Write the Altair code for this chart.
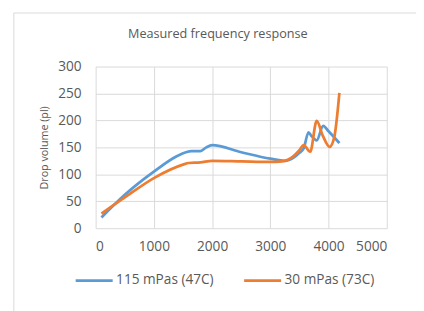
import altair as alt
import pandas as pd

# Series data
blue_name = "115 mPas (47C)"
blue_x = [100, 500, 1000, 1400, 1550, 1650, 1800, 1900, 2000, 2500, 3000, 3250, 3400, 3500, 3573, 3656, 3700, 3796, 3908, 4000, 4186]
blue_y = [20, 62, 105, 134, 141, 143, 143, 150, 154, 141, 129, 125, 131, 140, 148, 178, 172, 163, 190, 180, 158]

orange_name = "30 mPas (73C)"
orange_x = [100, 500, 1000, 1500, 1600, 1800, 2000, 2500, 3000, 3200, 3300, 3400, 3500, 3573, 3685, 3796, 3900, 4019, 4100, 4186]
orange_y = [27, 57, 93, 118, 121, 122, 125, 124, 123, 124, 127, 134, 145, 154, 142, 199, 172, 151, 170, 251]

x_ticks = [0, 1000, 2000, 3000, 4000, 5000]
y_ticks = [0, 50, 100, 150, 200, 250, 300]

rows = [{"f": x, "v": y, "s": blue_name} for x, y in zip(blue_x, blue_y)]
rows += [{"f": x, "v": y, "s": orange_name} for x, y in zip(orange_x, orange_y)]
df = pd.DataFrame(rows)

FONT = "Open Sans"
TXT = "#595959"

lines = alt.Chart(df).mark_line(strokeWidth=2.8, interpolate="monotone").encode(
    x=alt.X("f:Q", scale=alt.Scale(domain=[0, 5000], nice=False),
            axis=alt.Axis(values=x_ticks, format="d", title=None, ticks=False, domain=False,
                          labelPadding=12, labelFontSize=14, labelColor=TXT, labelFont=FONT,
                          gridColor="#D9D9D9", gridWidth=1)),
    y=alt.Y("v:Q", scale=alt.Scale(domain=[0, 300], nice=False),
            axis=alt.Axis(values=y_ticks, format="d", title="Drop volume (pl)", ticks=False, domain=False,
                          labelPadding=15, labelFontSize=14, labelColor=TXT, labelFont=FONT,
                          titleFontSize=11, titleFont=FONT, titleColor=TXT, titleFontWeight="normal",
                          titlePadding=8, gridColor="#D9D9D9", gridWidth=1)),
    color=alt.Color("s:N", sort=[blue_name, orange_name],
                    scale=alt.Scale(domain=[blue_name, orange_name], range=["#5B9BD5", "#ED7D31"]),
                    legend=alt.Legend(title=None, orient="none", direction="horizontal",
                                      legendX=-22, legendY=199, symbolType="stroke",
                                      symbolSize=1444, symbolStrokeWidth=2.8,
                                      labelFontSize=14, labelFont=FONT, labelColor=TXT,
                                      columnPadding=24, labelOffset=2)),
    detail="s:N",
    order="f:Q",
)

frame = alt.Chart(pd.DataFrame({"a": [0]})).mark_rect(
    fill=None, stroke="#D9D9D9", strokeWidth=1
).encode(x=alt.value(-84), x2=alt.value(340), y=alt.value(-55), y2=alt.value(260))

chart = alt.layer(frame, lines).properties(
    width=299, height=166,
    title=alt.TitleParams("Measured frequency response", fontSize=13, font=FONT,
                          color=TXT, fontWeight="normal", anchor="middle", dx=-24,
                          offset=-29, frame="group"),
    autosize=alt.AutoSizeParams(type="none"),
    padding={"left": 90, "top": 56, "right": 30, "bottom": 85},
).configure_view(stroke=None)

chart.save("out.html", embed_options={"renderer": "svg", "actions": False})
